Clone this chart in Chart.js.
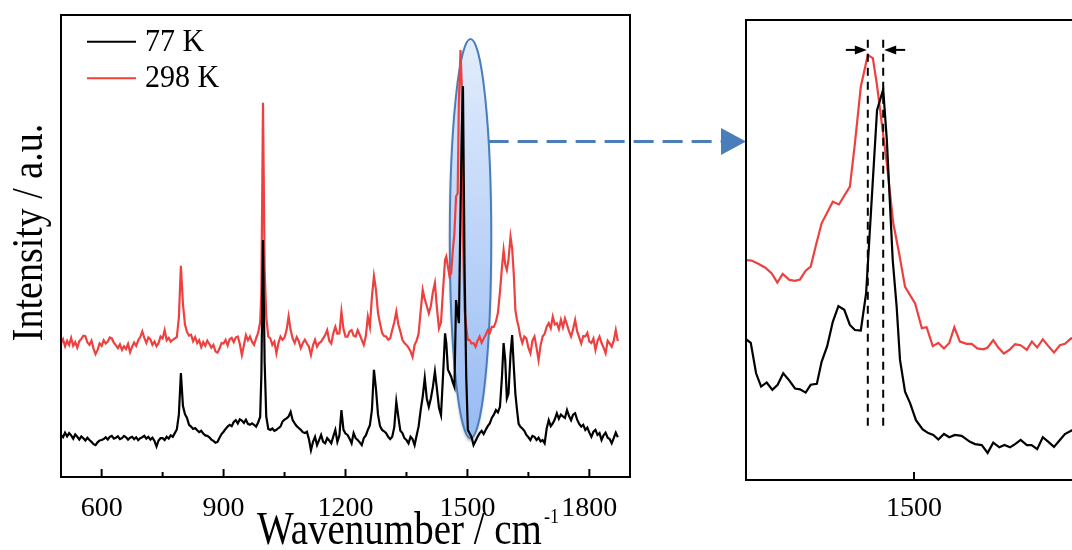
<!DOCTYPE html>
<html>
<head>
<meta charset="utf-8">
<script src="https://cdn.jsdelivr.net/npm/chart.js@4.4.0/dist/chart.umd.min.js"></script>
<style>
  html, body { margin: 0; padding: 0; background: #fff; overflow: hidden; }
  #wrap { position: relative; width: 1072px; height: 550px; overflow: hidden; }
  #full { position: absolute; left: 0; top: 0; }
  #zoom { position: absolute; left: 700px; top: 0; }
</style>
</head>
<body>
<div id="wrap">
  <canvas id="full" width="760" height="550"></canvas>
  <canvas id="zoom" width="400" height="550"></canvas>
</div>
<script>
// full Raman spectra (intensity in a.u., 0-100 frame)
const wavenumber = [
  500,505,510,515,520,525,530,535,540,545,
  550,555,560,565,570,575,580,585,590,595,
  600,605,610,615,620,625,630,635,640,645,
  650,655,660,665,670,675,680,685,690,695,
  700,705,710,715,720,725,730,735,740,745,
  750,755,760,765,770,775,780,785,790,795,
  800,805,810,815,820,825,830,835,840,845,
  850,855,860,865,870,875,880,885,890,895,
  900,905,910,915,920,925,930,935,940,945,
  950,955,960,965,970,975,980,985,990,993,997,1001,1005,
  1010,1015,1020,1025,1030,1035,1040,1045,1050,1055,
  1060,1065,1070,1075,1080,1085,1090,1095,1100,1105,
  1110,1115,1120,1125,1130,1135,1140,1145,1150,1155,
  1160,1165,1170,1175,1180,1185,1190,1195,1200,1205,
  1210,1215,1220,1225,1230,1235,1240,1245,1250,1255,
  1260,1265,1270,1275,1280,1285,1290,1295,1300,1305,
  1310,1315,1320,1325,1330,1335,1340,1345,1350,1355,
  1360,1365,1370,1375,1380,1385,1390,1395,1400,1405,
  1410,1415,1420,1425,1430,1435,1440,1445,
  1448,1452,1456,1460,1464,1468,1472,1476,1479,1483,1486,1489,1493,1497,1501,1505,
  1510,1515,1520,1525,1530,1535,1540,1545,1550,1555,1560,1565,1570,1575,1580,1585,
  1589,1593,1597,1601,1606,1610,1614,1618,1622,1626,1630,
  1635,1640,1645,1650,1655,1660,1665,1670,1675,1680,
  1685,1690,1695,1700,1705,1710,1715,1720,1725,1730,
  1735,1740,1745,1750,1755,1760,1765,1770,1775,1780,
  1785,1790,1795,1800,1805,1810,1815,1820,1825,1830,
  1835,1840,1845,1850,1855,1860,1865,1870
]

const int298K = [
  28.9,29.8,28.3,29.5,28.6,30.1,28.4,29.2,28.0,29.4,
  29.9,30.6,30.5,29.1,28.6,29.5,27.8,26.6,27.5,28.9,
  28.4,29.6,28.9,29.3,30.2,30.0,29.1,28.5,27.9,28.7,
  27.5,28.3,27.7,28.8,27.0,28.2,29.1,28.4,29.6,30.3,
  31.5,30.1,29.0,30.2,29.8,28.6,29.3,28.3,29.0,30.4,
  30.0,31.8,29.6,30.1,29.3,29.7,30.0,30.3,34.5,45.7,
  37.5,33.0,31.4,30.6,30.8,29.4,30.3,29.0,29.6,28.1,
  29.2,28.4,29.5,28.8,28.0,28.6,27.2,26.9,27.8,29.0,
  28.9,29.7,28.5,29.8,30.1,29.2,30.2,30.4,28.8,26.4,
  28.5,30.7,29.6,30.4,29.3,28.6,30.0,31.2,33.5,40.0,81.0,45.0,34.7,
  30.4,30.0,28.6,29.3,26.8,29.0,30.4,29.7,30.2,31.8,
  34.8,31.8,30.0,29.0,30.3,29.4,27.9,29.0,29.7,28.9,
  28.2,26.4,28.5,29.7,28.2,29.0,29.3,30.0,30.7,31.8,
  29.5,28.9,31.1,32.5,31.0,31.1,35.8,32.0,30.4,30.4,
  31.5,31.8,30.6,30.4,31.8,30.8,29.7,28.6,30.5,34.7,
  32.5,39.0,43.5,40.5,35.5,33.2,31.2,30.5,30.4,29.7,
  30.0,31.8,33.5,35.8,33.0,31.5,29.7,29.0,28.6,28.0,
  27.2,26.0,28.6,29.5,31.1,36.0,40.5,38.5,37.0,35.4,
  37.0,40.0,42.0,36.5,32.2,33.5,40.5,47.0,
  47.7,45.5,43.4,44.1,49.0,52.8,60.7,61.4,81.6,92.4,85.0,52.8,36.0,32.5,29.7,29.7,
  28.9,29.0,28.2,29.5,30.4,29.1,30.0,30.8,31.8,31.2,32.5,32.5,33.6,35.5,40.0,45.5,
  49.1,46.0,44.8,47.0,52.0,49.5,44.0,36.1,34.0,32.5,30.5,
  29.0,30.4,30.0,28.0,26.8,29.5,30.4,28.0,25.3,28.5,
  30.4,31.0,32.5,33.3,32.2,34.7,33.0,33.3,32.0,34.0,
  32.4,34.3,33.0,31.5,30.4,32.0,34.0,31.5,30.2,28.9,
  30.5,30.4,31.2,29.3,29.0,30.0,27.5,29.4,30.4,29.0,
  28.0,26.8,29.5,28.9,28.2,29.5,31.8,29.4
]

const int77K = [
  9.1,8.6,9.6,8.8,9.5,9.0,8.3,9.2,8.7,8.1,
  8.8,8.4,7.9,8.5,8.0,7.6,7.1,6.9,7.5,7.9,
  8.0,8.2,8.6,8.1,8.7,8.9,8.3,8.5,8.8,8.2,
  8.4,8.9,8.6,8.1,8.5,8.7,8.2,8.6,8.0,8.4,
  8.6,8.9,8.3,8.7,8.1,8.5,7.8,6.6,7.9,8.4,
  8.4,8.0,8.7,8.3,9.0,8.7,9.5,10.3,13.5,22.5,
  15.4,13.6,12.8,11.3,10.9,10.4,10.6,10.1,9.7,10.0,
  9.4,9.0,8.9,8.6,8.1,7.8,7.4,7.6,8.5,9.3,
  9.8,10.4,10.9,11.3,11.0,11.9,12.3,11.6,12.5,12.2,
  11.7,12.4,11.5,11.3,11.6,11.3,10.9,11.8,13.0,22.0,51.3,25.0,13.1,
  10.4,10.2,10.5,10.0,10.2,10.6,10.9,12.0,12.4,12.7,
  13.1,14.1,12.3,11.6,11.0,10.6,10.2,9.7,9.5,9.8,
  8.2,5.8,7.6,8.7,6.9,8.0,9.1,7.6,7.3,8.4,
  7.9,7.3,8.8,10.2,7.6,9.0,14.5,10.2,9.4,9.1,
  8.3,7.3,9.5,8.4,8.0,7.5,6.9,8.4,9.0,10.2,
  11.2,14.5,23.2,19.0,13.5,11.0,10.2,9.9,9.5,8.7,
  8.2,8.7,10.8,16.3,13.0,10.0,9.5,8.4,8.0,7.3,
  8.7,8.2,6.9,9.0,11.0,14.5,17.4,21.4,17.0,15.2,
  17.0,19.5,22.8,19.0,15.0,13.4,22.0,31.1,
  29.0,23.2,22.5,21.7,20.5,19.5,38.3,35.5,33.3,57.8,75.0,84.6,45.0,22.0,10.2,9.5,
  8.7,6.9,7.8,8.7,9.5,10.0,9.3,10.2,11.0,11.6,12.8,13.5,14.5,14.0,15.2,21.7,
  29.0,25.3,17.0,18.0,26.5,30.7,24.0,18.0,14.5,11.5,10.9,
  10.5,10.0,9.1,8.6,8.0,8.9,8.7,8.0,8.5,7.7,
  8.0,7.3,10.5,12.3,11.0,11.6,12.5,13.8,12.6,13.5,
  13.1,12.8,14.5,13.2,12.3,13.5,13.8,12.4,11.5,10.9,
  11.3,10.2,10.7,9.6,8.7,9.8,10.2,9.1,9.5,8.0,
  9.0,9.6,8.5,8.2,7.3,8.4,9.6,8.6
]

// zoomed band around 1485 cm-1 (right panel, own a.u. frame)
const zoomWn298K = [1440.0,1442.0,1444.4,1446.8,1449.2,1451.2,1453.1,1455.5,1457.5,1459.3,1461.3,1463.1,1465.0,1467.0,1471.0,1473.2,1477.1,1478.9,1481.0,1483.5,1485.3,1486.7,1488.5,1490.3,1492.6,1494.8,1496.8,1500.4,1502.8,1504.5,1506.7,1508.7,1510.7,1512.6,1514.4,1516.4,1518.8,1520.6,1522.6,1524.8,1526.3,1528.3,1530.1,1532.1,1534.3,1536.1,1538.1,1540.3,1542.1,1544.0,1546.0,1548.0,1550.0,1552.1,1553.9,1556.1,1558.2]
const zoomInt298K = [47.8,47.7,47.0,46.2,44.9,42.9,44.8,43.5,43.3,43.6,45.5,46.4,51.1,55.8,60.5,59.9,63.8,73.2,85.5,92.4,91.7,86.2,77.5,68.8,55.8,48.9,42.0,38.4,33.0,33.2,29.1,29.8,28.6,29.8,33.2,30.1,29.6,29.6,28.6,28.4,28.8,30.4,28.8,27.5,28.4,29.5,29.3,28.3,30.1,28.8,30.6,29.1,27.7,29.3,29.6,30.8,30.4]
const zoomWn77K = [1440.0,1441.7,1443.6,1445.4,1447.4,1449.4,1451.3,1453.3,1455.5,1457.5,1459.3,1461.3,1463.1,1465.3,1467.0,1469.0,1471.0,1473.0,1475.1,1477.1,1478.9,1481.0,1482.9,1485.2,1486.8,1489.0,1490.3,1492.4,1493.8,1495.0,1496.8,1498.6,1500.7,1503.1,1505.1,1506.9,1508.7,1510.7,1512.6,1514.6,1517.0,1520.0,1521.8,1524.2,1526.3,1528.3,1530.5,1532.3,1534.3,1536.1,1538.1,1540.3,1542.0,1544.0,1546.0,1548.0,1550.0,1552.1,1553.9,1556.1,1558.2]
const zoomInt77K = [30.6,29.8,23.2,20.3,21.2,19.6,20.7,23.2,21.6,19.9,19.7,19.0,20.7,20.9,25.7,29.1,34.4,37.8,37.0,33.7,32.6,32.5,40.6,64.1,80.4,84.9,73.9,47.8,37.7,26.1,19.2,16.7,13.0,11.0,10.2,9.8,8.8,10.0,9.3,9.8,9.6,8.3,7.8,7.6,5.9,8.1,7.1,7.6,7.1,7.8,8.7,7.6,7.6,6.7,9.3,8.3,7.2,8.7,10.0,10.7,11.3]

const xTicksMain = [600, 900, 1200, 1500, 1800]
const xTicksMinor = [750, 1050, 1350, 1650]
const zoomTicks = [1500]
const seriesLabels = ["77 K", "298 K"]
const seriesColors = ["#000000", "#ef4040"]
const peakPositions = [1483.5, 1489.0] // 298 K, 77 K band maxima

// highlighted region in the full spectrum (data units)
const zoomRegion = { wn: 1507.6, inten: 51.6, halfWn: 51, halfInt: 43.2, arrowAt: 72.6 }

const serif = "'Liberation Serif', 'Times New Roman', serif"
const toPoints = (xs, ys) => xs.map((x, i) => ({ x, y: ys[i] }))

function drawText(ctx, text, x, y, size, sy, align, rotate) {
    ctx.save()
    ctx.translate(x, y)
    if (rotate) ctx.rotate(rotate)
    ctx.scale(1, sy)
    ctx.font = size + "px " + serif
    ctx.fillStyle = "#000"
    ctx.textAlign = align || "left"
    ctx.textBaseline = "alphabetic"
    ctx.fillText(text, 0, 0)
    const w = ctx.measureText(text).width
    ctx.restore()
    return w
}

function line(ctx, x1, y1, x2, y2) {
    ctx.beginPath()
    ctx.moveTo(x1, y1)
    ctx.lineTo(x2, y2)
    ctx.stroke()
}

function arrowHead(ctx, tipX, y, dir, len, half) {
    ctx.beginPath()
    ctx.moveTo(tipX, y)
    ctx.lineTo(tipX - dir * len, y - half)
    ctx.lineTo(tipX - dir * len, y + half)
    ctx.closePath()
    ctx.fill()
}

const fullDecor = {
    id: "fullDecor",
    beforeDatasetsDraw(chart) {
        const { ctx, scales: { x, y } } = chart
        const cx = x.getPixelForValue(zoomRegion.wn)
        const cy = y.getPixelForValue(zoomRegion.inten)
        const rx = x.getPixelForValue(zoomRegion.wn + zoomRegion.halfWn) - cx
        const ry = cy - y.getPixelForValue(zoomRegion.inten + zoomRegion.halfInt)
        ctx.save()
        const g = ctx.createLinearGradient(0, cy - ry, 0, cy + ry)
        g.addColorStop(0, "#e3edfc")
        g.addColorStop(1, "#97bbf4")
        ctx.beginPath()
        ctx.ellipse(cx, cy, rx, ry, 0, 0, Math.PI * 2)
        ctx.shadowColor = "rgba(0,0,0,0.35)"
        ctx.shadowBlur = 3
        ctx.shadowOffsetY = 3
        ctx.fillStyle = g
        ctx.fill()
        ctx.shadowColor = "transparent"
        ctx.lineWidth = 2
        ctx.strokeStyle = "#4a7ebb"
        ctx.stroke()
        ctx.restore()
    },
    afterDraw(chart) {
        const { ctx, chartArea: a, scales: { x, y } } = chart
        ctx.save()
        ctx.strokeStyle = "#000"
        ctx.lineWidth = 2
        ctx.strokeRect(a.left, a.top, a.right - a.left, a.bottom - a.top)
        xTicksMain.forEach((v) => line(ctx, x.getPixelForValue(v), a.bottom, x.getPixelForValue(v), a.bottom - 8))
        xTicksMinor.forEach((v) => line(ctx, x.getPixelForValue(v), a.bottom, x.getPixelForValue(v), a.bottom - 5))

        // legend
        chart.data.datasets.forEach((ds, i) => {
            const ly = a.top + 26.7 + i * 36.6
            ctx.strokeStyle = ds.borderColor
            line(ctx, a.left + 26, ly, a.left + 75, ly)
            drawText(ctx, ds.label, a.left + 84, ly + 9, 30, 1.05, "left")
        })

        // axis titles
        const tw = drawText(ctx, "Wavenumber / cm", a.left + 196, a.bottom + 67, 39, 1.2, "left")
        drawText(ctx, "-1", a.left + 196 + tw + 2, a.bottom + 45.5, 18, 1.2, "left")
        drawText(ctx, "Intensity / a.u.", a.left - 19, a.top + 217.5, 38, 1.15, "center", -Math.PI / 2)

        // dashed pointer from the highlighted band to the zoom panel
        const cx = x.getPixelForValue(zoomRegion.wn)
        const cy = y.getPixelForValue(zoomRegion.inten)
        const rx = x.getPixelForValue(zoomRegion.wn + zoomRegion.halfWn) - cx
        const ry = cy - y.getPixelForValue(zoomRegion.inten + zoomRegion.halfInt)
        const ay = y.getPixelForValue(zoomRegion.arrowAt)
        const k = (ay - cy) / ry
        const startX = cx + rx * Math.sqrt(1 - k * k)
        const tipX = a.right + 116
        ctx.strokeStyle = "#4a7ebb"
        ctx.fillStyle = "#4a7ebb"
        ctx.lineWidth = 3
        ctx.setLineDash([20, 9])
        line(ctx, startX, ay, tipX - 25, ay)
        ctx.setLineDash([])
        arrowHead(ctx, tipX, ay, 1, 25, 13.5)
        ctx.restore()
    },
}

const zoomDecor = {
    id: "zoomDecor",
    afterDraw(chart) {
        const { ctx, chartArea: a, scales: { x, y } } = chart
        ctx.save()
        ctx.strokeStyle = "#000"
        ctx.fillStyle = "#000"
        ctx.lineWidth = 2
        ctx.strokeRect(a.left, a.top, a.right - a.left, a.bottom - a.top)
        zoomTicks.forEach((v) => line(ctx, x.getPixelForValue(v), a.bottom, x.getPixelForValue(v), a.bottom - 8))

        // peak markers
        const top = y.getPixelForValue(95.7)
        const bottom = y.getPixelForValue(11.5)
        ctx.setLineDash([8, 6])
        peakPositions.forEach((p) => line(ctx, x.getPixelForValue(p), top, x.getPixelForValue(p), bottom))
        ctx.setLineDash([])

        const ay = y.getPixelForValue(93.5)
        const left = x.getPixelForValue(peakPositions[0]) - 1
        const right = x.getPixelForValue(peakPositions[1]) + 1
        line(ctx, left - 21, ay, left - 10, ay)
        arrowHead(ctx, left, ay, 1, 12, 4.5)
        line(ctx, right + 21, ay, right + 10, ay)
        arrowHead(ctx, right, ay, -1, 12, 4.5)
        ctx.restore()
    },
}

function makeOptions(xMin, xMax, tickValues, padding, tickPad) {
    return {
        responsive: false,
        animation: false,
        devicePixelRatio: 1,
        events: [],
        layout: { padding },
        plugins: { legend: { display: false }, tooltip: { enabled: false } },
        elements: { point: { radius: 0 }, line: { borderWidth: 2.2, tension: 0 } },
        scales: {
            x: {
                type: "linear",
                min: xMin,
                max: xMax,
                grid: { display: false, drawTicks: false },
                border: { display: false },
                ticks: {
                    color: "#000",
                    font: { family: serif, size: 28 },
                    padding: tickPad,
                    maxRotation: 0,
                    callback: (value) => String(value),
                },
                afterBuildTicks: (s) => {
                    s.ticks = tickValues.map((v) => ({ value: v }))
                },
                afterFit: (s) => {
                    s.height = 60
                },
            },
            y: { display: false, min: 0, max: 100 },
        },
    }
}

new Chart(document.getElementById("full"), {
    type: "line",
    data: {
        datasets: [
            { label: seriesLabels[0], data: toPoints(wavenumber, int77K), borderColor: seriesColors[0] },
            { label: seriesLabels[1], data: toPoints(wavenumber, int298K), borderColor: seriesColors[1] },
        ],
    },
    options: makeOptions(500, 1900, xTicksMain, { left: 61, right: 130, top: 15, bottom: 13 }, 15),
    plugins: [fullDecor],
})

new Chart(document.getElementById("zoom"), {
    type: "line",
    data: {
        datasets: [
            { label: seriesLabels[0], data: toPoints(zoomWn77K, zoomInt77K), borderColor: seriesColors[0] },
            { label: seriesLabels[1], data: toPoints(zoomWn298K, zoomInt298K), borderColor: seriesColors[1] },
        ],
    },
    options: makeOptions(1440, 1560, zoomTicks, { left: 46, right: 18, top: 20, bottom: 10 }, 12),
    plugins: [zoomDecor],
})
</script>
</body>
</html>
